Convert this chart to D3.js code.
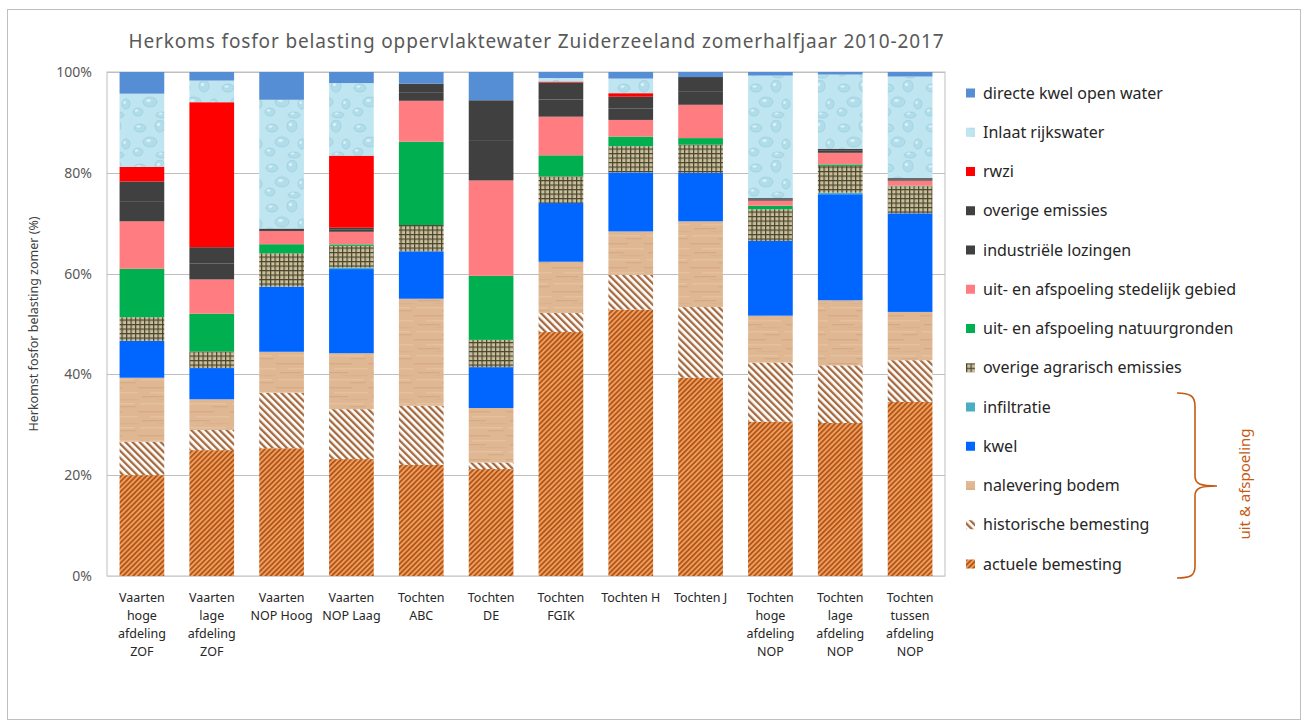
<!DOCTYPE html>
<meta charset="utf-8">
<style>
  body { margin: 0; background: #fff; }
  svg text { font-family: "Noto Sans", "Open Sans", sans-serif; }
</style>
<script src="https://d3js.org/d3.v7.min.js"></script>
<div id="chart"></div>
<script>

// categories (x labels, one line per array entry)
var categories = [
  ["Vaarten", "hoge", "afdeling", "ZOF"],
  ["Vaarten", "lage", "afdeling", "ZOF"],
  ["Vaarten", "NOP Hoog"],
  ["Vaarten", "NOP Laag"],
  ["Tochten", "ABC"],
  ["Tochten", "DE"],
  ["Tochten", "FGIK"],
  ["Tochten H"],
  ["Tochten J"],
  ["Tochten", "hoge", "afdeling", "NOP"],
  ["Tochten", "lage", "afdeling", "NOP"],
  ["Tochten", "tussen", "afdeling", "NOP"]
];

// series, bottom to top (percent of total)
var actueleBemesting     = [20.0, 25.0, 25.3, 23.2, 22.0, 21.2, 48.6, 52.8, 39.3, 30.6, 30.3, 34.6];
var historischeBemesting = [ 6.6,  4.0, 11.0,  9.9, 11.7,  1.3,  3.8,  6.9, 14.0, 11.7, 11.4,  8.3];
var naleveringBodem      = [12.7,  6.1,  8.1, 11.1, 21.2, 10.8, 10.2,  8.6, 17.0,  9.3, 12.9,  9.6];
var kwel                 = [ 7.3,  6.2, 12.9, 16.7,  9.4,  8.1, 11.7, 11.7,  9.6, 14.8, 21.0, 19.6];
var infiltratie          = [ 0,    0,    0,    0.3,  0,    0,    0,    0,    0,    0,    0.3,  0  ];
var overigeAgrarisch     = [ 4.7,  3.3,  6.6,  4.3,  5.2,  5.4,  5.3,  5.2,  5.6,  6.3,  5.3,  5.4];
var natuurgronden        = [ 9.6,  7.5,  1.8,  0.3, 16.5, 12.7,  4.2,  1.9,  1.3,  0.7,  0.3,  0.1];
var stedelijkGebied      = [ 9.4,  6.8,  2.6,  2.5,  8.1, 18.9,  7.7,  3.3,  6.6,  1.0,  2.3,  1.0];
var industrieleLozingen  = [ 4.0,  3.2,  0.2,  0.4,  1.7,  8.0,  3.4,  2.3,  2.7,  0.2,  0.4,  0.2];
var overigeEmissies      = [ 3.9,  3.2,  0.3,  0.4,  1.7,  7.9,  3.4,  2.3,  2.8,  0.3,  0.4,  0.3];
var rwzi                 = [ 2.9, 28.8,  0,   14.3,  0,    0,    0.2,  0.7,  0,    0,    0,    0  ];
var inlaatRijkswater     = [14.5,  4.3, 25.5, 14.4,  0,    0,    0.7,  2.9,  0,   24.3, 14.7, 20.2];
var directeKwel          = [ 4.3,  1.7,  5.5,  2.2,  2.3,  5.6,  1.2,  1.3,  1.0,  0.7,  0.5,  0.9];

var seriesNames = [
  "actuele bemesting", "historische bemesting", "nalevering bodem", "kwel", "infiltratie",
  "overige agrarisch emissies", "uit- en afspoeling natuurgronden", "uit- en afspoeling stedelijk gebied",
  "industriële lozingen", "overige emissies", "rwzi", "Inlaat rijkswater", "directe kwel open water"
];
var seriesValues = [
  actueleBemesting, historischeBemesting, naleveringBodem, kwel, infiltratie,
  overigeAgrarisch, natuurgronden, stedelijkGebied, industrieleLozingen, overigeEmissies,
  rwzi, inlaatRijkswater, directeKwel
];
var yTicks = [0, 0.2, 0.4, 0.6, 0.8, 1];

// fills (solid colours or pattern ids)
var fills = [
  "url(#p-actueel)", "url(#p-historisch)", "url(#p-hout)", "#0066ff", "#4bacc6",
  "url(#p-raster)", "#00b050", "#ff7c80", "#404040", "#404040",
  "#ff0000", "url(#p-water)", "#558ed5"
];

// build rows for d3.stack
var rows = categories.map(function(c, i) {
  var r = {i: i};
  seriesNames.forEach(function(n, k) { r[n] = seriesValues[k][i]; });
  return r;
});

var W = 1309, H = 728;
var svg = d3.select("#chart").append("svg")
  .attr("width", W).attr("height", H);

// ---------- patterns ----------
var defs = svg.append("defs");

// actuele bemesting: dense orange stripes "////"
var pa = defs.append("pattern").attr("id", "p-actueel")
  .attr("patternUnits", "userSpaceOnUse").attr("width", 3.6).attr("height", 10)
  .attr("patternTransform", "rotate(45)");
pa.append("rect").attr("width", 3.6).attr("height", 10).attr("fill", "#f0a263");
pa.append("rect").attr("width", 1.9).attr("height", 10).attr("fill", "#b4561a");

// historische bemesting: wider brown stripes "\\\\" on white
var ph = defs.append("pattern").attr("id", "p-historisch")
  .attr("patternUnits", "userSpaceOnUse").attr("width", 5).attr("height", 10)
  .attr("patternTransform", "rotate(-45)");
ph.append("rect").attr("width", 5).attr("height", 10).attr("fill", "#ffffff");
ph.append("rect").attr("width", 2.3).attr("height", 10).attr("fill", "#a5693d");

// nalevering bodem: light wood texture
var pw = defs.append("pattern").attr("id", "p-hout")
  .attr("patternUnits", "userSpaceOnUse").attr("width", 46).attr("height", 24);
pw.append("rect").attr("width", 46).attr("height", 24).attr("fill", "#dfb893");
[[0, 3, 30, "#cfa27d"], [12, 8, 34, "#e7c5a5"], [4, 12, 22, "#cea27e"], [20, 15, 26, "#d8ae8b"],
 [2, 19, 40, "#e8c8a9"], [28, 22, 16, "#cfa37f"]].forEach(function(s) {
  pw.append("rect").attr("x", s[0]).attr("y", s[1]).attr("width", s[2]).attr("height", 1.4)
    .attr("fill", s[3]).attr("opacity", 0.6);
});

// overige agrarisch emissies: dark grid on khaki
var pg = defs.append("pattern").attr("id", "p-raster")
  .attr("patternUnits", "userSpaceOnUse").attr("width", 4.5).attr("height", 4.5);
pg.append("rect").attr("width", 4.5).attr("height", 4.5).attr("fill", "#c9c09a");
pg.append("rect").attr("width", 1.2).attr("height", 4.5).attr("fill", "#4a4430");
pg.append("rect").attr("width", 4.5).attr("height", 1.2).attr("fill", "#4a4430");

// inlaat rijkswater: water drops texture
var pwt = defs.append("pattern").attr("id", "p-water")
  .attr("patternUnits", "userSpaceOnUse").attr("width", 44).attr("height", 40);
pwt.append("rect").attr("width", 44).attr("height", 40).attr("fill", "#bfe6f0");
[[8, 8, 6, 4], [28, 6, 5, 6], [18, 22, 7, 5], [38, 24, 4, 5], [6, 32, 5, 4], [30, 35, 6, 3]].forEach(function(d) {
  pwt.append("ellipse").attr("cx", d[0]).attr("cy", d[1]).attr("rx", d[2]).attr("ry", d[3])
    .attr("fill", "#b1dce9").attr("stroke", "#98cbdc").attr("stroke-width", 0.7);
  pwt.append("ellipse").attr("cx", d[0] - 1.5).attr("cy", d[1] - 1.5).attr("rx", d[2] * 0.35).attr("ry", d[3] * 0.3)
    .attr("fill", "#d6f0f6");
});

// ---------- outer frame ----------
svg.append("rect").attr("x", 7.5).attr("y", 9.5).attr("width", 1293).attr("height", 710)
  .attr("fill", "none").attr("stroke", "#bfbfbf");

// ---------- scales ----------
var x = d3.scaleBand().domain(d3.range(categories.length)).range([107, 945]).paddingInner(0.36).paddingOuter(0.18);
var y = d3.scaleLinear().domain([0, 1]).range([576, 72]);

// plot area border and gridlines
svg.append("rect").attr("x", 107).attr("y", 72).attr("width", 838).attr("height", 504)
  .attr("fill", "none").attr("stroke", "#bfbfbf");
svg.append("g").selectAll("line").data(yTicks).join("line")
  .attr("x1", 107).attr("x2", 945)
  .attr("y1", function(d) { return Math.round(y(d)) + 0.5; })
  .attr("y2", function(d) { return Math.round(y(d)) + 0.5; })
  .attr("stroke", function(d) { return d === 0 ? "#d0d0d0" : "#bfbfbf"; });

// y axis labels
var yAxis = svg.append("g").attr("transform", "translate(107,0)")
  .call(d3.axisLeft(y).tickValues(yTicks).tickFormat(d3.format(".0%")).tickSize(0).tickPadding(15));
yAxis.select(".domain").remove();
yAxis.selectAll("text").attr("font-size", 14).attr("fill", "#595959")
  .style("font-family", "'Noto Sans', sans-serif");

svg.append("text").attr("transform", "translate(38,324) rotate(-90)")
  .attr("text-anchor", "middle").attr("font-size", 12.5).attr("fill", "#404040")
  .text("Herkomst fosfor belasting zomer (%)");

// ---------- bars ----------
var stack = d3.stack().keys(seriesNames).offset(d3.stackOffsetExpand);
var layers = stack(rows);

svg.append("g").selectAll("g").data(layers).join("g")
  .attr("fill", function(d, k) { return fills[k]; })
  .selectAll("rect").data(function(d) { return d; }).join("rect")
  .attr("x", function(d) { return x(d.data.i); })
  .attr("width", x.bandwidth())
  .attr("y", function(d) { return y(d[1]); })
  .attr("height", function(d) { return Math.max(0, y(d[0]) - y(d[1])); });

// ---------- x labels ----------
var xl = svg.append("g");
categories.forEach(function(lines, i) {
  var t = xl.append("text").attr("text-anchor", "middle").attr("font-size", 12.5).attr("fill", "#262626")
    .attr("x", x(i) + x.bandwidth() / 2).attr("y", 602);
  lines.forEach(function(s, j) {
    t.append("tspan").attr("x", x(i) + x.bandwidth() / 2).attr("dy", j === 0 ? 0 : 18).text(s);
  });
});

// ---------- title ----------
svg.append("text").attr("x", 536).attr("y", 48).attr("text-anchor", "middle")
  .attr("font-size", 19).attr("fill", "#595959")
  .attr("textLength", 815).attr("lengthAdjust", "spacing")
  .text("Herkoms fosfor belasting oppervlaktewater Zuiderzeeland zomerhalfjaar 2010-2017");

// ---------- legend (top to bottom = reverse stack) ----------
var legendOrder = d3.range(seriesNames.length).reverse();
var ly = d3.scalePoint().domain(legendOrder).range([93, 564]);
var lg = svg.append("g").selectAll("g").data(legendOrder).join("g")
  .attr("transform", function(k) { return "translate(966," + ly(k) + ")"; });
lg.append("rect").attr("x", 0).attr("y", -4.5).attr("width", 9).attr("height", 9)
  .attr("fill", function(k) { return fills[k]; });
lg.append("text").attr("x", 17).attr("y", 0).attr("dy", "0.35em")
  .attr("font-size", 16).attr("fill", "#262626")
  .text(function(k) { return seriesNames[k]; });

// brace for uit & afspoeling
var bc = "#c55a11";
svg.append("path")
  .attr("d", "M1177,393 C1190,393 1195,396 1195,406 L1195,476 C1195,484 1200,486 1217,486 " +
             "C1200,486 1195,488 1195,496 L1195,566 C1195,576 1190,578 1177,578")
  .attr("fill", "none").attr("stroke", bc).attr("stroke-width", 1.6);
svg.append("text").attr("transform", "translate(1250,484) rotate(-90)")
  .attr("text-anchor", "middle").attr("font-size", 15).attr("fill", bc)
  .text("uit & afspoeling");

</script>
